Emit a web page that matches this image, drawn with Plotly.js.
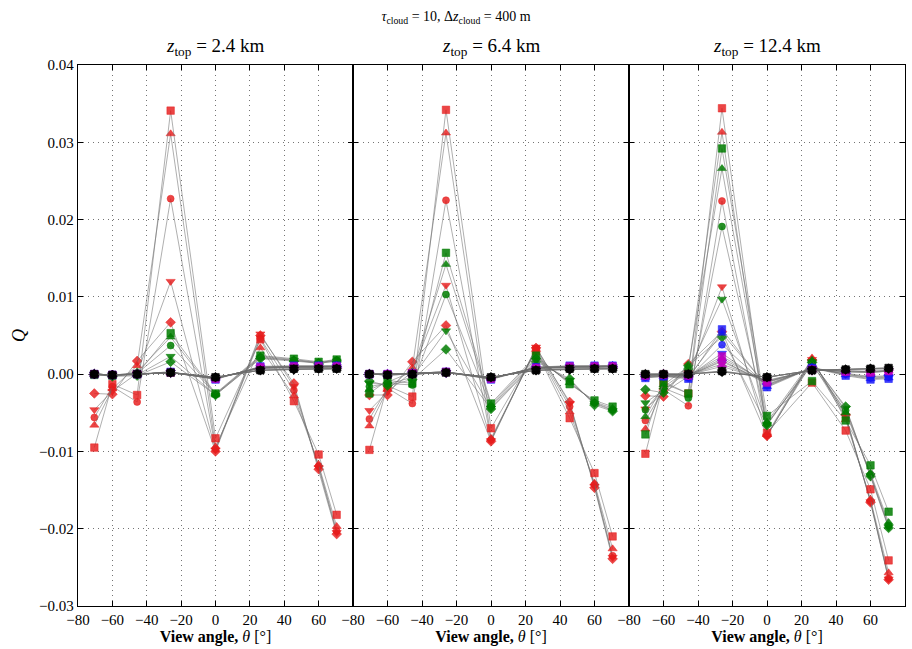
<!DOCTYPE html>
<html>
<head>
<meta charset="utf-8">
<script src="https://cdn.plot.ly/plotly-3.0.1.min.js"></script>
<style>html,body{margin:0;padding:0;background:#fff;}#chart{width:912px;height:649px;}</style>
</head>
<body>
<div id="chart"></div>
<script>
// View angles (MISR cameras), degrees
const viewAngles = [-70.5, -60, -45.6, -26.1, 0, 26.1, 45.6, 60, 70.5];
const panelTitles = ["2.4", "6.4", "12.4"];
const xTickVals = [-80, -60, -40, -20, 0, 20, 40, 60, 80];
const markerSymbols = ["square", "triangle-up", "circle", "triangle-down", "diamond"];
const colorNames = ["red", "green", "blue", "magenta", "black"];

// ---- Panel 1: z_top = 2.4 km ----  rows: square, triangle-up, circle, triangle-down, diamond
const p1Red = [
  [-0.0095, -0.0013, -0.0027, 0.0341, -0.0083, 0.0045, -0.0035, -0.0104, -0.0182],
  [-0.0066, -0.0019,  0.0011, 0.0311, -0.0094, 0.0034, -0.0028, -0.0117, -0.0197],
  [-0.0056, -0.0016, -0.0036, 0.0227, -0.0097, 0.0046, -0.0021, -0.0119, -0.0203],
  [-0.0046, -0.0022,  0.0001, 0.0120, -0.0098, 0.0052, -0.0016, -0.0121, -0.0205],
  [-0.0025, -0.0026,  0.0017, 0.0067, -0.0100, 0.0050, -0.0012, -0.0123, -0.0207]
];
const p1Green = [
  [-0.0001, -0.0002,  0.0000, 0.0053, -0.0025, 0.0024, 0.0020, 0.0016, 0.0019],
  [-0.0001, -0.0002,  0.0003, 0.0048, -0.0026, 0.0023, 0.0019, 0.0015, 0.0018],
  [-0.0001, -0.0001,  0.0001, 0.0037, -0.0026, 0.0022, 0.0018, 0.0015, 0.0018],
  [ 0.0000, -0.0002, -0.0001, 0.0023, -0.0027, 0.0021, 0.0018, 0.0014, 0.0017],
  [ 0.0000, -0.0003, -0.0002, 0.0016, -0.0027, 0.0020, 0.0017, 0.0014, 0.0017]
];
const p1Blue = [
  [0.0000, -0.0001, 0.0000, 0.0003, -0.0007, 0.0010, 0.0011, 0.0011, 0.0011],
  [0.0000, -0.0001, 0.0000, 0.0003, -0.0006, 0.0009, 0.0010, 0.0010, 0.0011],
  [0.0000, -0.0001, 0.0000, 0.0002, -0.0006, 0.0009, 0.0010, 0.0010, 0.0010],
  [0.0000, -0.0001, 0.0000, 0.0002, -0.0006, 0.0009, 0.0010, 0.0010, 0.0010],
  [0.0000, -0.0001, 0.0000, 0.0002, -0.0005, 0.0008, 0.0009, 0.0010, 0.0010]
];
const p1Magenta = [
  [0.0000, -0.0001, 0.0000, 0.0002, -0.0006, 0.0009, 0.0010, 0.0010, 0.0010],
  [0.0000, -0.0001, 0.0000, 0.0002, -0.0005, 0.0008, 0.0009, 0.0009, 0.0010],
  [0.0000, -0.0001, 0.0000, 0.0002, -0.0005, 0.0008, 0.0009, 0.0009, 0.0009],
  [0.0000, -0.0001, 0.0000, 0.0002, -0.0005, 0.0008, 0.0009, 0.0009, 0.0009],
  [0.0000, -0.0001, 0.0000, 0.0002, -0.0005, 0.0007, 0.0008, 0.0009, 0.0009]
];
const p1Black = [
  [0.0000, -0.0001, 0.0000, 0.0002, -0.0004, 0.0005, 0.0007, 0.0007, 0.0007],
  [0.0000, -0.0001, 0.0000, 0.0002, -0.0004, 0.0005, 0.0007, 0.0007, 0.0007],
  [0.0000, -0.0001, 0.0000, 0.0002, -0.0004, 0.0005, 0.0006, 0.0007, 0.0007],
  [0.0000, -0.0001, 0.0000, 0.0002, -0.0004, 0.0005, 0.0006, 0.0007, 0.0007],
  [0.0000, -0.0001, 0.0000, 0.0002, -0.0004, 0.0005, 0.0006, 0.0007, 0.0007]
];

// ---- Panel 2: z_top = 6.4 km ----
const p2Red = [
  [-0.0098, -0.0015, -0.0029, 0.0342, -0.0070, 0.0030, -0.0057, -0.0128, -0.0210],
  [-0.0067, -0.0020,  0.0008, 0.0312, -0.0083, 0.0032, -0.0049, -0.0141, -0.0226],
  [-0.0058, -0.0018, -0.0038, 0.0225, -0.0085, 0.0033, -0.0042, -0.0143, -0.0235],
  [-0.0047, -0.0023,  0.0003, 0.0115, -0.0086, 0.0035, -0.0038, -0.0145, -0.0237],
  [-0.0027, -0.0027,  0.0016, 0.0063, -0.0087, 0.0034, -0.0036, -0.0147, -0.0239]
];
const p2Green = [
  [-0.0025, -0.0008, -0.0012, 0.0157, -0.0038, 0.0024, -0.0013, -0.0034, -0.0042],
  [-0.0020, -0.0010,  0.0003, 0.0142, -0.0040, 0.0022, -0.0011, -0.0036, -0.0044],
  [-0.0016, -0.0012, -0.0014, 0.0103, -0.0042, 0.0020, -0.0010, -0.0037, -0.0046],
  [-0.0012, -0.0013, -0.0004, 0.0056, -0.0044, 0.0018, -0.0008, -0.0038, -0.0047],
  [-0.0009, -0.0015, -0.0007, 0.0032, -0.0045, 0.0016, -0.0006, -0.0040, -0.0048]
];
const p2Blue = [
  [0.0000, 0.0000, 0.0001, 0.0003, -0.0007, 0.0009, 0.0011, 0.0011, 0.0011],
  [0.0000, 0.0000, 0.0001, 0.0003, -0.0006, 0.0009, 0.0010, 0.0011, 0.0011],
  [0.0000, 0.0000, 0.0001, 0.0003, -0.0006, 0.0009, 0.0010, 0.0010, 0.0011],
  [0.0000, 0.0000, 0.0001, 0.0002, -0.0006, 0.0008, 0.0010, 0.0010, 0.0010],
  [0.0000, 0.0000, 0.0001, 0.0002, -0.0005, 0.0008, 0.0009, 0.0010, 0.0010]
];
const p2Magenta = [
  [0.0000, 0.0000, 0.0001, 0.0003, -0.0006, 0.0008, 0.0010, 0.0010, 0.0010],
  [0.0000, 0.0000, 0.0001, 0.0003, -0.0005, 0.0008, 0.0009, 0.0010, 0.0010],
  [0.0000, 0.0000, 0.0001, 0.0002, -0.0005, 0.0008, 0.0009, 0.0009, 0.0010],
  [0.0000, 0.0000, 0.0001, 0.0002, -0.0005, 0.0007, 0.0009, 0.0009, 0.0009],
  [0.0000, 0.0000, 0.0001, 0.0002, -0.0005, 0.0007, 0.0008, 0.0009, 0.0009]
];
const p2Black = [
  [0.0000, -0.0001, 0.0000, 0.0002, -0.0004, 0.0005, 0.0007, 0.0007, 0.0007],
  [0.0000, -0.0001, 0.0000, 0.0002, -0.0004, 0.0005, 0.0007, 0.0007, 0.0007],
  [0.0000, -0.0001, 0.0000, 0.0002, -0.0004, 0.0005, 0.0006, 0.0007, 0.0007],
  [0.0000, -0.0001, 0.0000, 0.0002, -0.0004, 0.0005, 0.0006, 0.0007, 0.0007],
  [0.0000, -0.0001, 0.0000, 0.0002, -0.0004, 0.0005, 0.0006, 0.0007, 0.0007]
];

// ---- Panel 3: z_top = 12.4 km ----
const p3Red = [
  [-0.0103, -0.0012, -0.0025, 0.0344, -0.0076, -0.0011, -0.0073, -0.0149, -0.0241],
  [-0.0071, -0.0017,  0.0006, 0.0313, -0.0078,  0.0021, -0.0059, -0.0162, -0.0257],
  [-0.0060, -0.0020, -0.0041, 0.0224, -0.0079,  0.0015, -0.0056, -0.0164, -0.0264],
  [-0.0045, -0.0024, -0.0003, 0.0113, -0.0080,  0.0019, -0.0054, -0.0165, -0.0265],
  [-0.0028, -0.0029,  0.0013, 0.0055, -0.0080,  0.0018, -0.0053, -0.0166, -0.0266]
];
const p3Green = [
  [-0.0078, -0.0010, -0.0025, 0.0292, -0.0054, -0.0009, -0.0060, -0.0118, -0.0178],
  [-0.0055, -0.0014,  0.0010, 0.0266, -0.0062,  0.0018, -0.0050, -0.0128, -0.0192],
  [-0.0046, -0.0018, -0.0031, 0.0191, -0.0064,  0.0012, -0.0047, -0.0130, -0.0196],
  [-0.0037, -0.0021,  0.0004, 0.0097, -0.0065,  0.0016, -0.0044, -0.0131, -0.0198],
  [-0.0020, -0.0024,  0.0011, 0.0048, -0.0066,  0.0015, -0.0042, -0.0132, -0.0199]
];
const p3Blue = [
  [-0.0005, -0.0003, -0.0006, 0.0058, -0.0017, 0.0008, -0.0002, -0.0007, -0.0006],
  [-0.0004, -0.0003, -0.0004, 0.0053, -0.0016, 0.0009, -0.0001, -0.0006, -0.0005],
  [-0.0004, -0.0002, -0.0005, 0.0038, -0.0015, 0.0008,  0.0000, -0.0005, -0.0004],
  [-0.0003, -0.0002, -0.0003, 0.0027, -0.0014, 0.0008,  0.0000, -0.0004, -0.0003],
  [-0.0003, -0.0002, -0.0003, 0.0018, -0.0013, 0.0007,  0.0001, -0.0003, -0.0002]
];
const p3Magenta = [
  [-0.0002, -0.0001, -0.0002, 0.0023, -0.0011, 0.0006, 0.0003, 0.0002, 0.0004],
  [-0.0002, -0.0001, -0.0002, 0.0020, -0.0010, 0.0006, 0.0003, 0.0002, 0.0004],
  [-0.0001, -0.0001, -0.0001, 0.0016, -0.0010, 0.0006, 0.0004, 0.0003, 0.0004],
  [-0.0001, -0.0001, -0.0001, 0.0013, -0.0009, 0.0006, 0.0004, 0.0003, 0.0005],
  [-0.0001,  0.0000, -0.0001, 0.0010, -0.0008, 0.0005, 0.0004, 0.0004, 0.0005]
];
const p3Black = [
  [0.0000, 0.0000, 0.0000, 0.0004, -0.0004, 0.0005, 0.0006, 0.0007, 0.0008],
  [0.0000, 0.0000, 0.0000, 0.0004, -0.0004, 0.0005, 0.0006, 0.0007, 0.0008],
  [0.0000, 0.0000, 0.0000, 0.0003, -0.0004, 0.0005, 0.0006, 0.0007, 0.0008],
  [0.0000, 0.0000, 0.0000, 0.0003, -0.0004, 0.0005, 0.0006, 0.0007, 0.0007],
  [0.0000, 0.0000, 0.0000, 0.0003, -0.0004, 0.0005, 0.0006, 0.0007, 0.0007]
];

const panels = [
  [p1Red, p1Green, p1Blue, p1Magenta, p1Black],
  [p2Red, p2Green, p2Blue, p2Magenta, p2Black],
  [p3Red, p3Green, p3Blue, p3Magenta, p3Black]
];

const markerColors = {
  red: "rgba(230,28,28,0.82)",
  green: "rgba(0,125,0,0.85)",
  blue: "rgba(20,20,250,0.82)",
  magenta: "rgba(191,0,191,0.85)",
  black: "rgba(0,0,0,0.95)"
};
const markerSizes = {"square": 7.5, "triangle-up": 8, "circle": 7, "triangle-down": 8, "diamond": 7.5};

const traces = [];
panels.forEach((panel, pi) => {
  const xa = pi === 0 ? "x" : "x" + (pi + 1);
  const ya = pi === 0 ? "y" : "y" + (pi + 1);
  panel.forEach((colorRows, ci) => {
    const col = markerColors[colorNames[ci]];
    // draw diamonds first and squares last, so squares sit on top
    for (let mi = colorRows.length - 1; mi >= 0; mi--) {
      const sym = markerSymbols[mi];
      traces.push({
        type: "scatter", mode: "lines+markers",
        x: viewAngles, y: colorRows[mi], xaxis: xa, yaxis: ya,
        line: {color: "rgba(110,110,110,0.55)", width: 1},
        marker: {symbol: sym, size: markerSizes[sym], color: col,
                 line: {color: col, width: 0.6}},
        showlegend: false, hoverinfo: "skip"
      });
    }
  });
});

const serif = "Liberation Serif, DejaVu Serif, serif";
const W = 912, L = 78, R = 7;
const plotW = W - L - R;
const d1 = 275 / plotW, d2 = 551 / plotW;
const domains = [[0, d1], [d1, d2], [d2, 1]];

function fmtTick(v) { return v < 0 ? "\u2212" + Math.abs(v) : String(v); }

function xAxis(i) {
  // the right-end "80" of panels 1 and 2 sits under the next panel's "−80"
  const txt = xTickVals.map(v => (i < 2 && v === 80) ? "" : fmtTick(v));
  return {
    domain: domains[i], anchor: i === 0 ? "y" : "y" + (i + 1),
    range: [-80, 80], tickmode: "array", tickvals: xTickVals, ticktext: txt,
    ticks: "inside", ticklen: 5, tickwidth: 1, tickcolor: "#000",
    mirror: "allticks", showline: true, linecolor: "#000", linewidth: 1.2,
    showgrid: true, gridcolor: "rgba(70,70,70,0.75)", griddash: "1px,4px", gridwidth: 1,
    zeroline: false, tickfont: {family: serif, size: 15, color: "#000"},
    title: {text: "<b>View angle, </b><i>θ</i> [°]", font: {family: serif, size: 16, color: "#000"}, standoff: 2},
    fixedrange: true
  };
}
function yAxis(i) {
  const ax = {
    anchor: i === 0 ? "x" : "x" + (i + 1),
    range: [-0.03, 0.04], tick0: 0, dtick: 0.01, tickformat: ".2f",
    ticks: "inside", ticklen: 5, tickwidth: 1, tickcolor: "#000",
    mirror: "allticks", showline: true, linecolor: "#000", linewidth: 1.2,
    showgrid: true, gridcolor: "rgba(70,70,70,0.75)", griddash: "1px,4px", gridwidth: 1,
    zeroline: false, tickfont: {family: serif, size: 15, color: "#000"},
    showticklabels: i === 0, fixedrange: true
  };
  if (i === 0) ax.title = {text: "<i>Q</i>", font: {family: serif, size: 18, color: "#000"}, standoff: 8};
  else ax.matches = "y";
  return ax;
}

const annotations = panelTitles.map((t, i) => ({
  xref: "paper", yref: "paper", x: (domains[i][0] + domains[i][1]) / 2, y: 1,
  yshift: 4, xanchor: "center", yanchor: "bottom", showarrow: false,
  text: "<i>z</i><sub>top</sub> = " + t + " km",
  font: {family: serif, size: 19, color: "#000"}
}));

const layout = {
  width: 912, height: 649,
  margin: {l: L, r: R, t: 65, b: 43},
  paper_bgcolor: "#fff", plot_bgcolor: "#fff",
  title: {text: "<i>τ</i><sub>cloud</sub> = 10, Δ<i>z</i><sub>cloud</sub> = 400 m",
          font: {family: serif, size: 14, color: "#000"}, x: 0.5, xanchor: "center", y: 0.975, yanchor: "middle"},
  xaxis: xAxis(0), xaxis2: xAxis(1), xaxis3: xAxis(2),
  yaxis: yAxis(0), yaxis2: yAxis(1), yaxis3: yAxis(2),
  annotations: annotations,
  showlegend: false
};

Plotly.newPlot("chart", traces, layout, {displayModeBar: false, staticPlot: true});
</script>
</body>
</html>
